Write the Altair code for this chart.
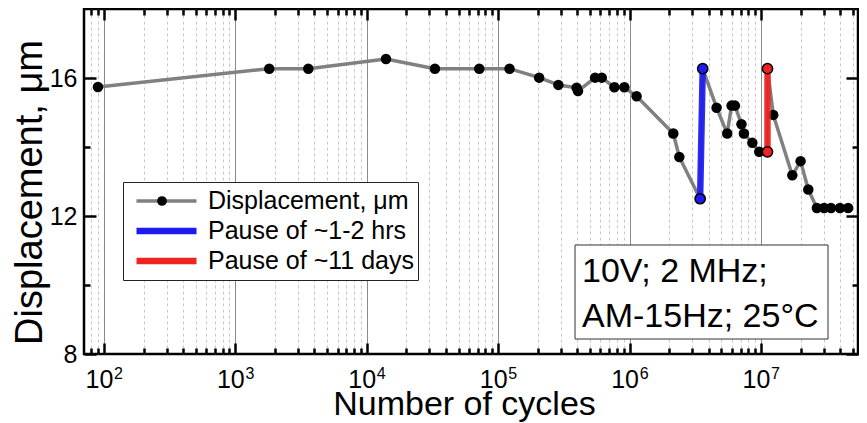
import altair as alt
import pandas as pd

FONT = "Liberation Sans"

# ---------------- data ----------------
cycles = [90, 1810, 3590, 14000, 33000, 71800, 122000,
          205000, 287000, 395000, 405000,
          546000, 614000, 766000, 912000, 1130000,
          2150000, 2390000, 3440000, 3600000,
          4590000, 5530000, 5970000, 6330000,
          7100000, 7410000, 8590000, 9700000,
          11200000, 11200000, 12400000,
          17300000, 20000000, 22900000,
          26600000, 30200000, 34100000, 39900000, 46000000]
displacement = [15.74, 16.27, 16.27, 16.55, 16.27, 16.27, 16.27,
                16.01, 15.80, 15.72, 15.62,
                16.01, 16.01, 15.73, 15.73, 15.47,
                14.39, 13.71, 12.50, 16.27,
                15.14, 14.39, 15.20, 15.20,
                14.66, 14.39, 14.12, 13.86,
                13.86, 16.27, 14.93,
                13.18, 13.59, 12.77,
                12.23, 12.23, 12.23, 12.23, 12.23]

main_label = "Displacement, μm"
pause_labels = ["Pause of ~1-2 hrs", "Pause of ~11 days"]
pause_colors = ["#1c1cf2", "#f02222"]
pause_start_cycles = [3440000, 11200000]
pause_start_disp = [12.50, 13.86]
pause_end_cycles = [3600000, 11200000]
pause_end_disp = [16.27, 16.27]

x_major_ticks = [1e2, 1e3, 1e4, 1e5, 1e6, 1e7]
x_minor_mult = [2, 3, 4, 5, 6, 7, 8, 9]
y_major_ticks = [8, 12, 16]
y_minor_ticks = [10, 14]
note_line1 = "10V; 2 MHz;"
note_line2 = "AM-15Hz; 25°C"

# ---------------- tables ----------------
main_df = pd.DataFrame({
    "cycles": cycles,
    "disp": displacement,
    "i": list(range(len(cycles))),
    "series": main_label,
    "dot": main_label,
})
rows = []
for k, lab in enumerate(pause_labels):
    rows.append({"series": lab, "cycles": pause_start_cycles[k], "disp": pause_start_disp[k], "i": 0})
    rows.append({"series": lab, "cycles": pause_end_cycles[k], "disp": pause_end_disp[k], "i": 1})
pause_df = pd.DataFrame(rows)

W, H = 774, 345
X_DOMAIN = [70.5, 5.47e7]
Y_DOMAIN = [8, 18]
xscale = alt.Scale(type="log", domain=X_DOMAIN, nice=False)
yscale = alt.Scale(domain=Y_DOMAIN, nice=False, zero=False)

series_domain = [main_label] + pause_labels
series_colors = ["#808080"] + pause_colors
series_widths = [3.5, 6.5, 6.5]

x_minor_ticks = [d * m for d in [10.0] + x_major_ticks for m in x_minor_mult
                 if X_DOMAIN[0] <= d * m <= X_DOMAIN[1]]
all_x_ticks = sorted(x_major_ticks + x_minor_ticks)
all_y_ticks = sorted(y_major_ticks + y_minor_ticks)

IS_MAJOR_X = "abs(log(datum.value)/LN10 - round(log(datum.value)/LN10)) < 0.01"
IS_MAJOR_Y = "datum.value % 4 == 0"


def cond(test, a, b):
    return {"condition": {"test": test, "value": a}, "value": b}


# base "10" labels + grid + title
x_axis_main = alt.Axis(
    orient="bottom", values=all_x_ticks,
    labelExpr=f"{IS_MAJOR_X} ? '10' : ''",
    ticks=False, tickSize=0, domain=False,
    grid=True, gridColor=cond(IS_MAJOR_X, "#8a8a8a", "#c6c6c6"),
    gridDash=cond(IS_MAJOR_X, [], [3, 3]), gridWidth=1,
    labelFontSize=25, labelBaseline="alphabetic", labelPadding=33, labelOffset=-5,
    labelFlush=False, labelOverlap=False, labelColor="black",
    title="Number of cycles", titleFontSize=34, titleFontWeight="normal",
    titleX=380, titleY=60, titleBaseline="alphabetic", titleAlign="center",
    titleColor="black",
)
# exponents of the decade labels
x_axis_exp = alt.Axis(
    orient="bottom", values=x_major_ticks,
    labelExpr="format(round(log(datum.value)/LN10), 'd')",
    ticks=False, tickSize=0, domain=False, grid=False,
    labelFontSize=16, labelBaseline="alphabetic", labelPadding=24, labelOffset=14,
    labelFlush=False, labelOverlap=False, labelColor="black", title=None,
)
x_axis_ticks_bottom = alt.Axis(
    orient="top", offset=-H, values=all_x_ticks, labels=False, domain=False,
    grid=False, ticks=True, tickSize=cond(IS_MAJOR_X, 11, 6), tickWidth=2.5,
    tickColor="black", title=None,
)
x_axis_ticks_top = alt.Axis(
    orient="bottom", offset=-H, values=all_x_ticks, labels=False, domain=False,
    grid=False, ticks=True, tickSize=cond(IS_MAJOR_X, 11, 6), tickWidth=2.5,
    tickColor="black", title=None,
)

y_axis_main = alt.Axis(
    orient="left", values=y_major_ticks, ticks=False, tickSize=0, domain=False,
    grid=False, labelFontSize=25, labelPadding=7, labelColor="black",
    title=main_label, titleFontSize=38, titleFontWeight="normal",
    titleX=-43, titleY=183, titleBaseline="alphabetic", titleAlign="center",
    titleColor="black",
)
y_axis_ticks_left = alt.Axis(
    orient="right", offset=-W, values=all_y_ticks, labels=False, domain=False,
    grid=False, ticks=True, tickSize=cond(IS_MAJOR_Y, 12, 6), tickWidth=2.5,
    tickColor="black", title=None,
)
y_axis_ticks_right = alt.Axis(
    orient="left", offset=-W, values=all_y_ticks, labels=False, domain=False,
    grid=False, ticks=True, tickSize=cond(IS_MAJOR_Y, 12, 6), tickWidth=2.5,
    tickColor="black", title=None,
)

line_legend = alt.Legend(
    orient="none", legendX=39, legendY=173, title=None,
    symbolType="stroke", symbolSize=3600, clipHeight=30, padding=4,
    symbolOffset=6, labelFontSize=25, labelOffset=8, labelLimit=400,
    labelColor="black", strokeColor="#222222", fillColor="white",
    rowPadding=0, zindex=1, symbolOpacity=1,
)
dot_legend = alt.Legend(
    orient="none", legendX=73, legendY=187, title=None,
    symbolType="circle", symbolSize=95, symbolStrokeWidth=0, padding=0,
    clipHeight=10, labelExpr="''", labelFontSize=1, labelOffset=0,
    zindex=2, symbolOpacity=1,
)

stroke_enc = alt.Stroke("series:N", scale=alt.Scale(domain=series_domain, range=series_colors),
                        legend=line_legend)
width_enc = alt.StrokeWidth("series:N", scale=alt.Scale(type="ordinal", domain=series_domain,
                                                        range=series_widths),
                            legend=line_legend)

line = alt.Chart(main_df).mark_line(strokeCap="round", strokeJoin="round").encode(
    x=alt.X("cycles:Q", scale=xscale, axis=x_axis_main),
    y=alt.Y("disp:Q", scale=yscale, axis=y_axis_main),
    order="i:Q",
    stroke=stroke_enc,
    strokeWidth=width_enc,
)

points = alt.Chart(main_df).mark_circle(size=110, opacity=1).encode(
    x=alt.X("cycles:Q", scale=xscale, axis=x_axis_ticks_bottom),
    y=alt.Y("disp:Q", scale=yscale, axis=y_axis_ticks_left),
    fill=alt.Fill("dot:N", scale=alt.Scale(domain=[main_label], range=["black"]),
                  legend=dot_legend),
)

pauses = alt.Chart(pause_df).mark_line(strokeCap="round", opacity=0.92).encode(
    x=alt.X("cycles:Q", scale=xscale, axis=x_axis_ticks_top),
    y=alt.Y("disp:Q", scale=yscale, axis=y_axis_ticks_right),
    order="i:Q",
    stroke=stroke_enc,
    strokeWidth=width_enc,
)

ends = alt.Chart(pause_df).mark_point(filled=True, size=105, stroke="black",
                                      strokeWidth=1.5, opacity=1).encode(
    x=alt.X("cycles:Q", scale=xscale, axis=x_axis_exp),
    y=alt.Y("disp:Q", scale=yscale, axis=None),
    color=alt.Color("series:N", scale=alt.Scale(domain=pause_labels, range=pause_colors),
                    legend=None),
)

one_row = alt.Data(values=[{}])
note_box = alt.Chart(one_row).mark_rect(
    fill="white", stroke="#333333", strokeWidth=1
).encode(x=alt.value(491), x2=alt.value(744), y=alt.value(236), y2=alt.value(330))

note_text1 = alt.Chart(one_row).mark_text(
    align="left", baseline="alphabetic", fontSize=34, font=FONT, color="black"
).encode(x=alt.value(498), y=alt.value(273), text=alt.value(note_line1))

note_text2 = alt.Chart(one_row).mark_text(
    align="left", baseline="alphabetic", fontSize=34, font=FONT, color="black"
).encode(x=alt.value(498), y=alt.value(318), text=alt.value(note_line2))

chart = (
    alt.layer(line, points, pauses, ends, note_box, note_text1, note_text2)
    .resolve_axis(x="independent", y="independent")
    .properties(width=W, height=H,
                padding={"left": 76, "top": 1, "right": 1, "bottom": 68},
                autosize=alt.AutoSizeParams(type="none"))
    .configure_view(stroke="black", strokeWidth=2.5)
    .configure_axis(labelFont=FONT, titleFont=FONT)
    .configure_legend(labelFont=FONT)
)

chart.save("out.html", embed_options={"renderer": "svg", "actions": False})
